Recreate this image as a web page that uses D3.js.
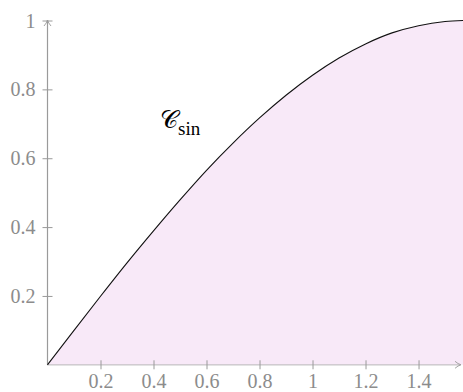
<!DOCTYPE html>
<html>
<head>
<meta charset="utf-8">
<script src="https://cdn.jsdelivr.net/npm/d3@7"></script>
<style>
  html, body { margin: 0; padding: 0; background: #fff; }
  svg { display: block; }
</style>
</head>
<body>
<svg id="chart" width="463" height="392"></svg>
<script>
// Sampled points of the curve C_sin on [0, π/2]
const xs = [0, 0.1, 0.2, 0.3, 0.4, 0.5, 0.6, 0.7, 0.8, 0.9, 1.0, 1.1, 1.2, 1.3, 1.4, 1.5, 1.5708];
const ys = [0, 0.100, 0.199, 0.296, 0.389, 0.479, 0.565, 0.644, 0.717, 0.783, 0.841, 0.891, 0.932, 0.964, 0.985, 0.997, 1.0];

// Axis tick values and their labels
const xTicks = [0.2, 0.4, 0.6, 0.8, 1.0, 1.2, 1.4];
const xTickLabels = ["0.2", "0.4", "0.6", "0.8", "1", "1.2", "1.4"];
const yTicks = [0.2, 0.4, 0.6, 0.8, 1.0];
const yTickLabels = ["0.2", "0.4", "0.6", "0.8", "1"];

const xDomain = [0, 1.5708];
const yDomain = [0, 1];

const svg = d3.select("#chart");
const x = d3.scaleLinear().domain(xDomain).range([47.5, 463.8]);
const y = d3.scaleLinear().domain(yDomain).range([364.8, 20.5]);

const pts = xs.map((v, i) => [v, ys[i]]);
const axisColor = "#9a9a9a";
const labelColor = "#8c8c8c";
const font = "'Liberation Serif', 'Times New Roman', serif";

// Shaded area under the curve
const area = d3.area()
  .x(d => x(d[0]))
  .y0(y(0))
  .y1(d => y(d[1]))
  .curve(d3.curveMonotoneX);
svg.append("path")
  .datum(pts)
  .attr("d", area)
  .attr("fill", "#f8e9f8");

// x axis
const xAxis = d3.axisBottom(x)
  .tickValues(xTicks)
  .tickFormat((d, i) => xTickLabels[i])
  .tickSizeOuter(0);
const gx = svg.append("g").attr("transform", `translate(0,${y(0)})`).call(xAxis);
gx.attr("font-family", null).attr("font-size", null);
gx.select(".domain").remove();
gx.selectAll(".tick line").attr("y1", -4.5).attr("y2", 4.5).attr("stroke", axisColor);
gx.selectAll(".tick text")
  .attr("y", 23.5).attr("dy", null)
  .attr("fill", labelColor)
  .style("font-family", font).style("font-size", "20px");
svg.append("line")
  .attr("x1", x(0)).attr("x2", 460)
  .attr("y1", y(0)).attr("y2", y(0))
  .attr("stroke", axisColor).attr("stroke-opacity", 0.55).attr("stroke-width", 1.2);
svg.append("path")
  .attr("d", `M${455},${y(0) - 3.5} Q${458},${y(0) - 0.8} ${461},${y(0)} Q${458},${y(0) + 0.8} ${455},${y(0) + 3.5}`)
  .attr("fill", "none").attr("stroke", axisColor).attr("stroke-width", 0.9);

// y axis
const yAxis = d3.axisLeft(y)
  .tickValues(yTicks)
  .tickFormat((d, i) => yTickLabels[i])
  .tickSizeOuter(0);
const gy = svg.append("g").attr("transform", `translate(${x(0)},0)`).call(yAxis);
gy.attr("font-family", null).attr("font-size", null);
gy.select(".domain").remove();
gy.selectAll(".tick line").attr("x1", -5).attr("x2", 5).attr("stroke", axisColor);
gy.selectAll(".tick text")
  .attr("x", -12).attr("dy", "0.33em")
  .attr("fill", labelColor)
  .style("font-family", font).style("font-size", "20px");
svg.append("line")
  .attr("x1", x(0)).attr("x2", x(0))
  .attr("y1", y(0)).attr("y2", 20)
  .attr("stroke", axisColor).attr("stroke-width", 1.2);
svg.append("path")
  .attr("d", `M${x(0) - 3.5},${26} Q${x(0) - 0.8},${23} ${x(0)},${20} Q${x(0) + 0.8},${23} ${x(0) + 3.5},${26}`)
  .attr("fill", "none").attr("stroke", axisColor).attr("stroke-width", 0.9);

// The curve itself
const line = d3.line()
  .x(d => x(d[0]))
  .y(d => y(d[1]))
  .curve(d3.curveMonotoneX);
svg.append("path")
  .datum(pts)
  .attr("d", line)
  .attr("fill", "none")
  .attr("stroke", "#111")
  .attr("stroke-width", 1.1);

// Curve label
const lbl = svg.append("text")
  .attr("x", 160).attr("y", 128)
  .attr("fill", "#000")
  .style("font-family", font);
lbl.append("tspan").text("𝒞").style("font-family", "'DejaVu Sans'").style("font-size", "25px");
lbl.append("tspan").text("sin").attr("dy", 7).attr("dx", 0).style("font-size", "19px");
</script>
</body>
</html>
